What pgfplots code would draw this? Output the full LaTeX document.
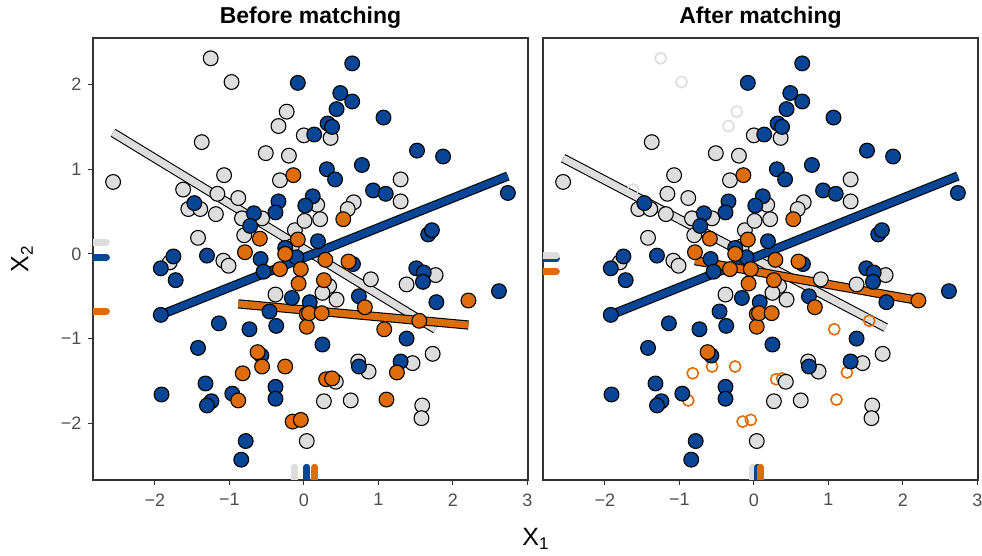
\documentclass[border=0pt]{standalone}
\usepackage{fontspec}
\setmainfont{Liberation Sans}
\usepackage{pgfplots}
\usepackage{pgfplotstable}
\pgfplotsset{compat=1.18}
\definecolor{cgrey}{RGB}{221,221,221}
\definecolor{cblue}{RGB}{8,69,148}
\definecolor{corange}{RGB}{222,108,8}
\definecolor{frame}{RGB}{51,51,51}
\definecolor{ticklab}{RGB}{77,77,77}

\pgfplotstableread{
x y
0.00 1.40
-1.37 1.32
-0.51 1.19
-0.20 1.16
-0.32 0.87
-1.07 0.93
-2.56 0.85
-1.16 0.71
-0.88 0.66
-1.55 0.53
-1.39 0.53
-1.18 0.47
-0.83 0.42
-0.56 0.42
-0.80 0.22
-0.12 0.28
-0.16 0.09
-1.42 0.19
-1.80 -0.10
-1.08 -0.08
-1.01 -0.14
-0.38 -0.48
0.36 1.37
1.30 0.88
1.30 0.62
0.18 0.58
0.01 0.39
0.22 0.41
0.67 0.61
0.59 0.53
0.90 -0.30
1.77 -0.25
1.38 -0.36
0.34 -0.38
0.25 -0.46
0.44 -0.54
1.73 -1.18
0.73 -1.27
0.87 -1.39
1.46 -1.29
0.43 -1.51
0.27 -1.74
0.63 -1.73
1.59 -1.79
1.58 -1.94
0.04 -2.21
}\greyM

\pgfplotstableread{
x y
-1.25 2.31
-0.97 2.03
-0.23 1.68
-0.34 1.51
-1.62 0.76
}\greyU

\pgfplotstableread{
x y
-0.08 2.02
0.65 2.25
0.49 1.90
0.65 1.80
0.44 1.71
1.07 1.61
0.32 1.54
0.38 1.50
0.14 1.41
1.52 1.22
1.87 1.15
0.78 1.05
0.31 1.00
0.42 0.88
0.93 0.75
1.10 0.71
2.74 0.72
0.12 0.68
0.02 0.57
1.67 0.23
1.72 0.28
0.19 0.15
0.66 -0.12
1.51 -0.17
1.61 -0.22
1.60 -0.33
2.62 -0.44
1.78 -0.57
0.74 -0.50
0.08 -0.57
1.38 -1.00
0.25 -1.07
0.74 -1.33
1.30 -1.27
-1.47 0.60
-0.34 0.62
-0.38 0.49
-0.67 0.48
-0.72 0.33
-0.25 0.07
-0.10 -0.04
-0.58 -0.06
-1.30 -0.02
-1.75 -0.03
-1.92 -0.17
-1.72 -0.31
-0.54 -0.21
-0.16 -0.52
-1.92 -0.72
-0.46 -0.68
-1.14 -0.82
-0.73 -0.89
-0.37 -0.85
-1.42 -1.11
-0.57 -1.20
-1.32 -1.53
-1.91 -1.66
-0.96 -1.65
-1.24 -1.74
-1.30 -1.79
-0.38 -1.57
-0.38 -1.71
-0.78 -2.21
-0.84 -2.43
}\blueT

\pgfplotstableread{
x y
-0.14 0.93
-0.59 0.18
-0.08 0.17
-0.25 0.00
-0.79 0.02
-0.32 -0.18
-0.04 -0.18
-0.07 -0.35
0.04 -0.71
0.04 -0.86
-0.62 -1.16
0.53 0.41
0.29 -0.07
0.60 -0.09
0.27 -0.31
0.82 -0.63
0.07 -0.70
0.24 -0.70
2.21 -0.55
}\orangeM

\pgfplotstableread{
x y
-0.56 -1.33
-0.25 -1.33
-0.82 -1.41
-0.88 -1.73
-0.15 -1.98
-0.04 -1.96
1.55 -0.79
1.08 -0.89
1.25 -1.40
0.30 -1.48
0.38 -1.47
1.11 -1.72
}\orangeU

\pgfplotsset{
  panel/.style={
    scale only axis, width=435pt, height=442pt, anchor=south west,
    xmin=-2.83, xmax=3.01, ymin=-2.67, ymax=2.55,
    axis line style={frame, line width=1.2pt},
    xtick={-2,-1,0,1,2,3}, xticklabels={−2,−1,0,1,2,3},
    tick style={frame, line width=1.1pt},
    tick align=outside, major tick length=5pt,
    xtick pos=bottom, ytick pos=left,
    ticklabel style={font=\fontsize{18}{18}\selectfont, text=ticklab},
    xticklabel style={yshift=-5pt},
    yticklabel style={xshift=-3pt},
  },
  fill pts/.style={only marks, mark=*, mark size=7.4pt,
    mark options={fill=#1, draw=black, line width=1.1pt}},
  hollow pts/.style={only marks, mark=o, mark size=5.6pt,
    mark options={draw=#1, line width=1.6pt}},
  fitout/.style={black, line width=9.2pt, line cap=butt},
  fitin/.style={#1, line width=7pt, line cap=butt},
  rug/.style={#1, line width=7pt, line cap=round},
}

\begin{document}
\begin{tikzpicture}
\path[use as bounding box] (0,0) rectangle (982pt,556pt);

% ---------- Before matching ----------
\begin{axis}[panel, at={(93pt,76pt)},
  ytick={-2,-1,0,1,2}, yticklabels={−2,−1,0,1,2}]
\addplot[fitout] coordinates {(-2.56,1.43) (1.77,-0.89)};
\addplot[fitin=cgrey] coordinates {(-2.56,1.43) (1.77,-0.89)};
\addplot[fitout] coordinates {(-1.92,-0.72) (2.74,0.92)};
\addplot[fitin=cblue] coordinates {(-1.92,-0.72) (2.74,0.92)};
\addplot[fitout] coordinates {(-0.88,-0.59) (2.21,-0.84)};
\addplot[fitin=corange] coordinates {(-0.88,-0.59) (2.21,-0.84)};
\addplot[fill pts=cgrey] table {\greyM};
\addplot[fill pts=cgrey] table {\greyU};
\addplot[fill pts=cblue] table {\blueT};
\addplot[fill pts=corange] table {\orangeM};
\addplot[fill pts=corange] table {\orangeU};
\addplot[rug=cgrey] coordinates {(-2.83,0.14) (-2.65,0.14)};
\addplot[rug=cblue] coordinates {(-2.83,-0.04) (-2.65,-0.04)};
\addplot[rug=corange] coordinates {(-2.83,-0.68) (-2.65,-0.68)};
\addplot[rug=cgrey] coordinates {(-0.12,-2.67) (-0.12,-2.52)};
\addplot[rug=cblue] coordinates {(0.04,-2.67) (0.04,-2.52)};
\addplot[rug=corange] coordinates {(0.15,-2.67) (0.15,-2.52)};
\end{axis}

% ---------- After matching ----------
\begin{axis}[panel, at={(543pt,76pt)}, ytick=\empty]
\addplot[fitout] coordinates {(-2.56,1.13) (1.77,-0.87)};
\addplot[fitin=cgrey] coordinates {(-2.56,1.13) (1.77,-0.87)};
\addplot[fitout] coordinates {(-1.92,-0.72) (2.74,0.92)};
\addplot[fitin=cblue] coordinates {(-1.92,-0.72) (2.74,0.92)};
\addplot[fitout] coordinates {(-0.79,-0.08) (2.21,-0.55)};
\addplot[fitin=corange] coordinates {(-0.79,-0.08) (2.21,-0.55)};
\addplot[hollow pts=cgrey] table {\greyU};
\addplot[hollow pts=corange] table {\orangeU};
\addplot[fill pts=cgrey] table {\greyM};
\addplot[fill pts=cblue] table {\blueT};
\addplot[fill pts=corange] table {\orangeM};
\addplot[rug=cblue] coordinates {(-2.83,-0.06) (-2.65,-0.06)};
\addplot[rug=cgrey] coordinates {(-2.83,-0.02) (-2.65,-0.02)};
\addplot[rug=corange] coordinates {(-2.83,-0.21) (-2.65,-0.21)};
\addplot[rug=cgrey] coordinates {(-0.02,-2.67) (-0.02,-2.52)};
\addplot[rug=cblue] coordinates {(0.05,-2.67) (0.05,-2.52)};
\addplot[rug=corange] coordinates {(0.09,-2.67) (0.09,-2.52)};
\end{axis}

\node[font=\fontsize{23}{23}\selectfont\bfseries] at (310.5pt,538pt) {Before matching};
\node[font=\fontsize{23}{23}\selectfont\bfseries] at (760.5pt,538pt) {After matching};
\node[font=\fontsize{25}{25}\selectfont, rotate=90] at (22pt,297pt) {X\raisebox{-0.35ex}{\fontsize{17}{17}\selectfont 2}};
\node[font=\fontsize{25}{25}\selectfont] at (535.5pt,17pt) {X\raisebox{-0.35ex}{\fontsize{17}{17}\selectfont 1}};
\end{tikzpicture}
\end{document}
